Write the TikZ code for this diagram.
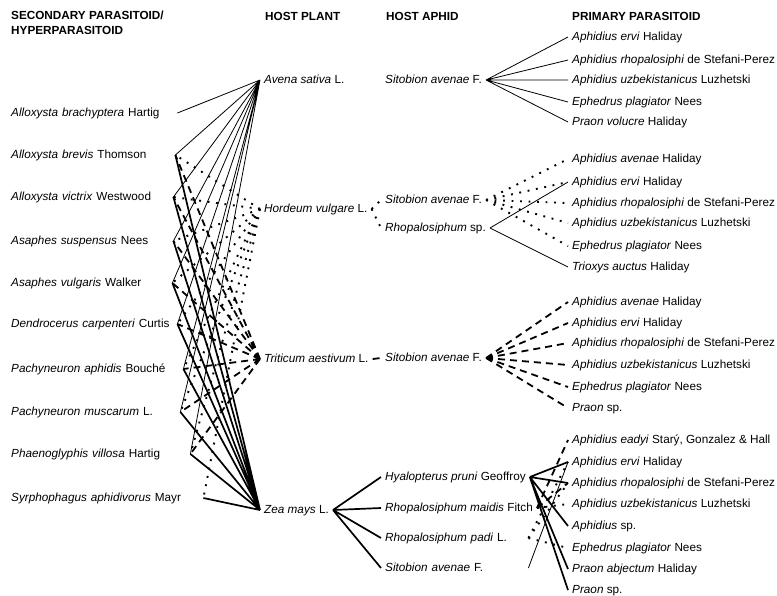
\documentclass[tikz,border=0pt]{standalone}
\usepackage{fontspec}
\setmainfont{Liberation Sans}
\tikzset{
    x={1pt},
    y={-1pt},
    column head/.style={
        font={\fontsize{11.75}{15}\selectfont\bfseries},
        align=left,
        inner sep=0pt,
    },
    taxon/.style={
        font={\fontsize{11.75}{14}\selectfont},
        anchor=west,
        inner xsep=4pt,
        inner ysep=0pt,
        text height=8.5pt,
        text depth=2.5pt,
    },
    linked taxon/.style={
        taxon,
        align=left,
        text width={#1},
    },
    species label/.style={
        linked taxon={#1},
        inner xsep=0pt,
    },
    link/.style={
        draw=black,
        line width={0.8pt},
    },
    dotted link/.style={
        link,
        line width={1.9pt},
        dash pattern=on 1.9pt off 6.6pt,
    },
    dashed link/.style={
        link,
        line width={1.8pt},
        dash pattern=on 7pt off 5pt,
    },
    thick link/.style={
        link,
        line width={1.7pt},
    },
}

\begin{document}
\begin{tikzpicture}
\useasboundingbox (0,0) rectangle (777,595);
% column heads
\node[column head, anchor=north west] (secondary head) at (11,11) {SECONDARY PARASITOID/\\HYPERPARASITOID};
\node[column head, anchor=west] (plant head) at (265,16) {HOST PLANT};
\node[column head, anchor=west] (aphid head) at (386,16) {HOST APHID};
\node[column head, anchor=west] (primary head) at (572,16) {PRIMARY PARASITOID};
% secondary parasitoids / hyperparasitoids
\node[species label=166] (brachyptera) at (11,113) {\textit{Alloxysta brachyptera} Hartig};
\node[species label=164] (brevis) at (11,155) {\textit{Alloxysta brevis} Thomson};
\node[species label=162] (victrix) at (11,197) {\textit{Alloxysta victrix} Westwood};
\node[species label=162] (suspensus) at (11,241) {\textit{Asaphes suspensus} Nees};
\node[species label=161] (vulgaris) at (11,283) {\textit{Asaphes vulgaris} Walker};
\node[species label=166] (carpenteri) at (11,324) {\textit{Dendrocerus carpenteri} Curtis};
\node[species label=172] (aphidis) at (11,369) {\textit{Pachyneuron aphidis} Bouché};
\node[species label=169] (muscarum) at (11,412) {\textit{Pachyneuron muscarum} L.};
\node[species label=179] (villosa) at (11,454) {\textit{Phaenoglyphis villosa} Hartig};
\node[species label=192] (aphidivorus) at (11,498) {\textit{Syrphophagus aphidivorus} Mayr};
% host plants
\node[taxon] (avena) at (260,80) {\textit{Avena sativa} L.};
\node[taxon] (hordeum) at (260,209) {\textit{Hordeum vulgare} L.};
\node[taxon] (triticum) at (260,359) {\textit{Triticum aestivum} L.};
\node[taxon] (zea) at (260,510) {\textit{Zea mays} L.};
% host aphids
\node[taxon] (sitobion A) at (381,80) {\textit{Sitobion avenae} F.};
\node[taxon] (sitobion H) at (381,200) {\textit{Sitobion avenae} F.};
\node[taxon] (rhopalosiphum H) at (381,228) {\textit{Rhopalosiphum} sp.};
\node[taxon] (sitobion T) at (381,358) {\textit{Sitobion avenae} F.};
\node[taxon] (hyalopterus Z) at (381,477) {\textit{Hyalopterus pruni} Geoffroy};
\node[taxon] (maidis Z) at (381,508) {\textit{Rhopalosiphum maidis} Fitch};
\node[linked taxon=139] (padi Z) at (381,538) {\textit{Rhopalosiphum padi} L.};
\node[linked taxon=139] (sitobion Z) at (381,568) {\textit{Sitobion avenae} F.};
% primary parasitoids
\node[taxon] (ervi 1) at (568,37) {\textit{Aphidius ervi} Haliday};
\node[taxon] (rhopalosiphi 1) at (568,60) {\textit{Aphidius rhopalosiphi} de Stefani-Perez};
\node[taxon] (uzbekistanicus 1) at (568,80) {\textit{Aphidius uzbekistanicus} Luzhetski};
\node[taxon] (plagiator 1) at (568,102) {\textit{Ephedrus plagiator} Nees};
\node[taxon] (volucre 1) at (568,122) {\textit{Praon volucre} Haliday};
\node[taxon] (avenae 2) at (568,159) {\textit{Aphidius avenae} Haliday};
\node[taxon] (ervi 2) at (568,182) {\textit{Aphidius ervi} Haliday};
\node[taxon] (rhopalosiphi 2) at (568,203) {\textit{Aphidius rhopalosiphi} de Stefani-Perez};
\node[taxon] (uzbekistanicus 2) at (568,223) {\textit{Aphidius uzbekistanicus} Luzhetski};
\node[taxon] (plagiator 2) at (568,246) {\textit{Ephedrus plagiator} Nees};
\node[taxon] (auctus 2) at (568,267) {\textit{Trioxys auctus} Haliday};
\node[taxon] (avenae 3) at (568,302) {\textit{Aphidius avenae} Haliday};
\node[taxon] (ervi 3) at (568,323) {\textit{Aphidius ervi} Haliday};
\node[taxon] (rhopalosiphi 3) at (568,343) {\textit{Aphidius rhopalosiphi} de Stefani-Perez};
\node[taxon] (uzbekistanicus 3) at (568,365) {\textit{Aphidius uzbekistanicus} Luzhetski};
\node[taxon] (plagiator 3) at (568,387) {\textit{Ephedrus plagiator} Nees};
\node[taxon] (praon 3) at (568,408) {\textit{Praon} sp.};
\node[taxon] (eadyi 4) at (568,440) {\textit{Aphidius eadyi} Starý, Gonzalez \& Hall};
\node[taxon] (ervi 4) at (568,462) {\textit{Aphidius ervi} Haliday};
\node[taxon] (rhopalosiphi 4) at (568,483) {\textit{Aphidius rhopalosiphi} de Stefani-Perez};
\node[taxon] (uzbekistanicus 4) at (568,504) {\textit{Aphidius uzbekistanicus} Luzhetski};
\node[taxon] (aphidius 4) at (568,526) {\textit{Aphidius} sp.};
\node[taxon] (plagiator 4) at (568,548) {\textit{Ephedrus plagiator} Nees};
\node[taxon] (abjectum 4) at (568,569) {\textit{Praon abjectum} Haliday};
\node[taxon] (praon 4) at (568,590) {\textit{Praon} sp.};
% plant links
\draw[link] (avena.west) -- (brachyptera.east) (avena.west) -- (brevis.east) (avena.west) -- (victrix.east)
    (avena.west) -- (suspensus.east) (avena.west) -- (vulgaris.east) (avena.west) -- (carpenteri.east)
    (avena.west) -- (aphidis.east) (avena.west) -- (muscarum.east) (avena.west) -- (villosa.east);
\draw[dotted link] (hordeum.west) -- (brevis.east) (hordeum.west) -- (victrix.east) (hordeum.west) -- (suspensus.east)
    (hordeum.west) -- (vulgaris.east) (hordeum.west) -- (carpenteri.east) (hordeum.west) -- (aphidis.east)
    (hordeum.west) -- (muscarum.east) (hordeum.west) -- (villosa.east) (hordeum.west) -- (aphidivorus.east);
\draw[dashed link] (triticum.west) -- (brevis.east) (triticum.west) -- (victrix.east) (triticum.west) -- (suspensus.east)
    (triticum.west) -- (vulgaris.east) (triticum.west) -- (carpenteri.east) (triticum.west) -- (aphidis.east)
    (triticum.west) -- (muscarum.east) (triticum.west) -- (villosa.east);
\draw[thick link] (zea.west) -- (brevis.east) (zea.west) -- (victrix.east) (zea.west) -- (suspensus.east)
    (zea.west) -- (vulgaris.east) (zea.west) -- (carpenteri.east) (zea.west) -- (aphidis.east)
    (zea.west) -- (muscarum.east) (zea.west) -- (villosa.east) (zea.west) -- (aphidivorus.east);
% aphid links
\draw[dotted link] (hordeum.east) -- (sitobion H.west) (hordeum.east) -- (rhopalosiphum H.west);
\draw[dashed link] (triticum.east) -- (sitobion T.west);
\draw[thick link] (zea.east) -- (hyalopterus Z.west) (zea.east) -- (maidis Z.west)
    (zea.east) -- (padi Z.west) (zea.east) -- (sitobion Z.west);
% parasitoid links
\draw[link] (sitobion A.east) -- (ervi 1.west) (sitobion A.east) -- (rhopalosiphi 1.west) (sitobion A.east) -- (uzbekistanicus 1.west)
    (sitobion A.east) -- (plagiator 1.west) (sitobion A.east) -- (volucre 1.west);
\draw[dotted link] (sitobion H.east) -- (avenae 2.west) (sitobion H.east) -- (ervi 2.west) (sitobion H.east) -- (rhopalosiphi 2.west)
    (sitobion H.east) -- (uzbekistanicus 2.west) (sitobion H.east) -- (plagiator 2.west);
\draw[link] (rhopalosiphum H.east) -- (ervi 2.west) (rhopalosiphum H.east) -- (auctus 2.west);
\draw[dashed link] (sitobion T.east) -- (avenae 3.west) (sitobion T.east) -- (ervi 3.west) (sitobion T.east) -- (rhopalosiphi 3.west)
    (sitobion T.east) -- (uzbekistanicus 3.west) (sitobion T.east) -- (plagiator 3.west) (sitobion T.east) -- (praon 3.west);
\draw[thick link] (hyalopterus Z.east) -- (ervi 4.west) (hyalopterus Z.east) -- (rhopalosiphi 4.west) (hyalopterus Z.east) -- (aphidius 4.west)
    (hyalopterus Z.east) -- (abjectum 4.west) (hyalopterus Z.east) -- (praon 4.west);
\draw[dashed link] (maidis Z.east) -- (eadyi 4.west) (maidis Z.east) -- (rhopalosiphi 4.west);
\draw[dotted link] (maidis Z.east) -- (uzbekistanicus 4.west) (padi Z.east) -- (ervi 4.west)
    (padi Z.east) -- (rhopalosiphi 4.west) (padi Z.east) -- (plagiator 4.west);
\draw[link] (sitobion Z.east) -- (ervi 4.west);
\end{tikzpicture}
\end{document}
